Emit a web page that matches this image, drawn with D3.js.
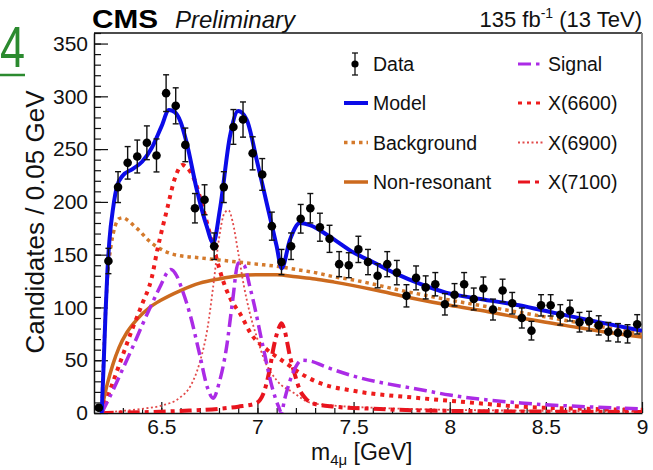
<!DOCTYPE html>
<html><head><meta charset="utf-8">
<script src="https://cdn.jsdelivr.net/npm/d3@7"></script>
<style>
body{margin:0;background:#fff}
svg{display:block;font-family:"Liberation Sans",Arial,Helvetica,sans-serif}
</style>
</head><body>
<svg id="c" width="653" height="470"></svg>
<script>
// ---------------- DATA ----------------
const binCenters = [6.175,6.225,6.275,6.325,6.375,6.425,6.475,6.525,6.575,6.625,
  6.675,6.725,6.775,6.825,6.875,6.925,6.975,7.025,7.075,7.125,
  7.175,7.225,7.275,7.325,7.375,7.425,7.475,7.525,7.575,7.625,
  7.675,7.725,7.775,7.825,7.875,7.925,7.975,8.025,8.075,8.125,
  8.175,8.225,8.275,8.325,8.375,8.425,8.475,8.525,8.575,8.625,
  8.675,8.725,8.775,8.825,8.875,8.925,8.975];
const dataCounts = [5,144,214,237,243,256,244,303,291,254,
  194,202,158,214,271,278,246,226,177,143,
  158,184,194,176,165,141,140,155,143,130,
  141,133,111,128,119,122,103,112,122,108,
  118,98,116,104,90,78,102,102,93,97,
  86,87,83,77,76,75,84];

const modelX = [6.19,6.2,6.21,6.22,6.23,6.25,6.27,6.3,6.35,6.4,6.45,6.5,6.54,6.57,6.6,6.632,6.684,6.736,6.77,6.805,6.857,6.9,6.944,6.996,7.048,7.1,7.126,7.169,7.221,7.273,7.377,7.5,7.6,7.72,7.85,7.98,8.16,8.36,8.54,8.75,9.0];
const modelY = [0,45,95,135,163,195,215,225,231,238,251,271,287,285,276,256,212,177,161,193,262,286,278,240,199,158,137,164,180,178,167,152,143,132,122,114,108,102,95,87,78];

const bkgX = [6.19,6.2,6.21,6.22,6.24,6.26,6.28,6.3,6.33,6.36,6.39,6.42,6.45,6.5,6.55,6.6,6.7,6.8,6.9,7.0,7.1,7.2,7.3,7.4,7.5,7.75,8.0,8.25,8.5,8.75,9.0];
const bkgY = [0,50,95,128,160,177,184,185,182,177,172,166,161,155,151,149,147,145,143,141,139,136,133,129,126,116,107,99,91,83,75];

const nonresX = [6.19,6.2,6.22,6.25,6.28,6.32,6.37,6.44,6.5,6.6,6.7,6.8,6.9,7.0,7.1,7.2,7.3,7.4,7.6,7.8,8.0,8.2,8.4,8.6,8.8,9.0];
const nonresY = [0,12,28,47,62,76,88,100,107,116,123,127,130,131,131,129,127,124,117,109,102,96,89,83,77,72];

const signalX = [6.19,6.25,6.3,6.35,6.4,6.45,6.5,6.53,6.55,6.58,6.61,6.65,6.7,6.74,6.77,6.8,6.84,6.87,6.9,6.93,6.96,6.98,7.03,7.08,7.11,7.125,7.14,7.17,7.2,7.23,7.28,7.35,7.5,7.85,8.0,8.37,8.7,9.0];
const signalY = [0,22,42,62,83,103,122,133,136,130,116,93,55,24,14,28,63,105,142,140,120,105,62,22,6,0,12,31,44,50,49,44,35,22,17,9.5,6,4];

const x6600X = [6.19,6.25,6.3,6.35,6.4,6.45,6.48,6.53,6.57,6.61,6.63,6.67,6.72,6.77,6.82,6.86,6.91,6.97,7.05,7.15,7.22,7.33,7.5,7.85,8.1,8.37,8.7,9.0];
const x6600Y = [0,30,55,80,103,128,155,193,222,235,233,222,192,158,126,108,94,74,60,47,38,28,21,14,10,6,4,3];

const x6900X = [6.19,6.3,6.4,6.5,6.6,6.65,6.7,6.74,6.77,6.8,6.83,6.85,6.87,6.9,6.93,6.96,7.0,7.03,7.1,7.19,7.27,7.4,7.6,8.0,8.5,9.0];
const x6900Y = [0,2,4,7,15,25,48,80,120,165,190,192,182,152,120,95,70,53,31,19,10,7,5,3,2,1];

const x7100X = [6.19,6.6,6.8,6.9,6.99,7.03,7.06,7.085,7.11,7.125,7.14,7.17,7.2,7.22,7.25,7.29,7.4,7.6,8.0,9.0];
const x7100Y = [0,2,4,6,9,18,38,63,80,85,79,53,33,22,14,9,6,4,2,1];

const xTickValues = [6.5,7,7.5,8,8.5,9];
const xTickLabels = ["6.5","7","7.5","8","8.5","9"];
const yTickValues = [0,50,100,150,200,250,300,350];
const yTickLabels = ["0","50","100","150","200","250","300","350"];

const legendLeft = ["Data","Model","Background","Non-resonant"];
const legendRight = ["Signal","X(6600)","X(6900)","X(7100)"];

// ---------------- STYLE ----------------
const styles = {
  model:{stroke:"#0b0be8", width:4, dash:null},
  background:{stroke:"#d47a2c", width:3.5, dash:"3.5,4"},
  nonres:{stroke:"#cc6a1e", width:3.5, dash:null},
  signal:{stroke:"#ab2be6", width:3.5, dash:"13,5,3.5,5"},
  x6600:{stroke:"#ee1c1c", width:4, dash:"4,5"},
  x6900:{stroke:"#e24a4a", width:1.8, dash:"2,2.5"},
  x7100:{stroke:"#e8141e", width:4, dash:"12,5,4,5"}
};

const svg = d3.select("#c");
const L=94, R=642, T=33, B=413;
const x = d3.scaleLinear().domain([6.15,9.0]).range([L,R]);
const y = d3.scaleLinear().domain([0,360]).range([B,T]);

svg.append("rect").attr("width",653).attr("height",470).attr("fill","#fff");

svg.append("clipPath").attr("id","clip").append("rect")
  .attr("x",L).attr("y",T).attr("width",R-L).attr("height",B-T);

// frame
svg.append("line").attr("x1",L).attr("x2",R).attr("y1",T).attr("y2",T).attr("stroke","#111").attr("stroke-width",1.5);
svg.append("line").attr("x1",R).attr("x2",R).attr("y1",T).attr("y2",B).attr("stroke","#888").attr("stroke-width",2);

// axes
const fontTick = "21px";
const xMinor = d3.ticks(6.2, 9.0, 28);
const yMinor = d3.range(0, 361, 10);

const gxMinor = svg.append("g").attr("transform",`translate(0,${B})`)
  .call(d3.axisBottom(x).tickValues(xMinor).tickSize(-5).tickSizeOuter(0).tickFormat(""));
gxMinor.select(".domain").remove();
const gx = svg.append("g").attr("transform",`translate(0,${B})`)
  .call(d3.axisBottom(x).tickValues(xTickValues).tickSize(-11).tickSizeOuter(0).tickPadding(6)
    .tickFormat((d,i)=>xTickLabels[i]));
gx.selectAll("text").attr("font-size",fontTick).attr("fill","#111").attr("font-family","Liberation Sans, Arial, sans-serif");

const gyMinor = svg.append("g").attr("transform",`translate(${L},0)`)
  .call(d3.axisLeft(y).tickValues(yMinor).tickSize(-7).tickSizeOuter(0).tickFormat(""));
gyMinor.select(".domain").remove();
const gy = svg.append("g").attr("transform",`translate(${L},0)`)
  .call(d3.axisLeft(y).tickValues(yTickValues).tickSize(-14).tickSizeOuter(0).tickPadding(6)
    .tickFormat((d,i)=>yTickLabels[i]));
gy.selectAll("text").attr("font-size",fontTick).attr("fill","#111").attr("font-family","Liberation Sans, Arial, sans-serif");
svg.selectAll(".domain").attr("stroke","#111").attr("stroke-width",1.5);
svg.selectAll(".tick line").attr("stroke","#111").attr("stroke-width",1.2);

// curves
const plot = svg.append("g").attr("clip-path","url(#clip)");
function curve(xs, ys, st){
  const pts = xs.map((d,i)=>[d, ys[i]]);
  const line = d3.line().x(d=>x(d[0])).y(d=>y(d[1])).curve(d3.curveMonotoneX);
  const p = plot.append("path").attr("d",line(pts)).attr("fill","none")
    .attr("stroke",st.stroke).attr("stroke-width",st.width)
    .attr("stroke-linejoin","round");
  if(st.dash) p.attr("stroke-dasharray",st.dash);
}
curve(nonresX, nonresY, styles.nonres);
curve(bkgX, bkgY, styles.background);
curve(x6900X, x6900Y, styles.x6900);
curve(x7100X, x7100Y, styles.x7100);
curve(x6600X, x6600Y, styles.x6600);
curve(signalX, signalY, styles.signal);
curve(modelX, modelY, styles.model);

// data
const dg = plot.append("g");
binCenters.forEach((c,i)=>{
  const v = dataCounts[i], e = Math.sqrt(v);
  const cx = x(c);
  dg.append("line").attr("x1",cx).attr("x2",cx).attr("y1",y(v+e)).attr("y2",y(Math.max(0,v-e))).attr("stroke","#111").attr("stroke-width",1.4);
  [v+e, Math.max(0,v-e)].forEach(t=>{
    dg.append("line").attr("x1",cx-3).attr("x2",cx+3).attr("y1",y(t)).attr("y2",y(t)).attr("stroke","#111").attr("stroke-width",1.4);
  });
  dg.append("circle").attr("cx",cx).attr("cy",y(v)).attr("r",4.3).attr("fill","#000");
});

// legend
const rows = [64,103,142.5,182];
const lg = svg.append("g").attr("font-size","19.5px").attr("fill","#111");
const leftKeys = [null,"model","background","nonres"];
const rightKeys = ["signal","x6600","x6900","x7100"];
legendLeft.forEach((lab,i)=>{
  const yy = rows[i];
  if(i===0){
    lg.append("line").attr("x1",355).attr("x2",355).attr("y1",yy-11).attr("y2",yy+11).attr("stroke","#111").attr("stroke-width",1.3);
    [yy-11,yy+11].forEach(t=>lg.append("line").attr("x1",352).attr("x2",358).attr("y1",t).attr("y2",t).attr("stroke","#111").attr("stroke-width",1.3));
    lg.append("circle").attr("cx",355).attr("cy",yy).attr("r",3.6).attr("fill","#000");
  } else {
    const st = styles[leftKeys[i]];
    const l = lg.append("line").attr("x1",344).attr("x2",368).attr("y1",yy).attr("y2",yy)
      .attr("stroke",st.stroke).attr("stroke-width",st.width);
    if(st.dash) l.attr("stroke-dasharray",st.dash);
  }
  lg.append("text").attr("x",373).attr("y",yy+7).text(lab);
});
legendRight.forEach((lab,i)=>{
  const yy = rows[i];
  const st = styles[rightKeys[i]];
  const l = lg.append("line").attr("x1",518).attr("x2",543).attr("y1",yy).attr("y2",yy)
    .attr("stroke",st.stroke).attr("stroke-width",Math.min(st.width,3.2));
  if(st.dash) l.attr("stroke-dasharray",st.dash);
  lg.append("text").attr("x",548).attr("y",yy+7).text(lab);
});

// titles
svg.append("text").attr("x",92).attr("y",28).attr("font-size","26px").attr("font-weight","bold")
  .attr("textLength",66).attr("lengthAdjust","spacingAndGlyphs").attr("fill","#000").text("CMS");
svg.append("text").attr("x",175).attr("y",28).attr("font-size","24px").attr("font-style","italic")
  .attr("fill","#111").text("Preliminary");
const lum = svg.append("text").attr("x",642).attr("y",27).attr("text-anchor","end").attr("font-size","22px").attr("fill","#111");
lum.append("tspan").text("135 fb");
lum.append("tspan").attr("font-size","14px").attr("dy",-9).text("-1");
lum.append("tspan").attr("dy",9).text(" (13 TeV)");

const xt = svg.append("text").attr("x",311).attr("y",460).attr("font-size","23px").attr("fill","#111");
xt.append("tspan").text("m");
xt.append("tspan").attr("font-size","15px").attr("dy",5).text("4μ");
xt.append("tspan").attr("dy",-5).text(" [GeV]");

svg.append("text").attr("transform","translate(44,222) rotate(-90)").attr("text-anchor","middle")
  .attr("font-size","26px").attr("fill","#111").text("Candidates / 0.05 GeV");

// slide artefact: green "4"
svg.append("text").attr("x",0).attr("y",67).attr("font-size","58px").attr("fill","#2b8a2f")
  .attr("textLength",25).attr("lengthAdjust","spacingAndGlyphs").text("4");
svg.append("line").attr("x1",0).attr("x2",25).attr("y1",75).attr("y2",75).attr("stroke","#2b8a2f").attr("stroke-width",2.5);
</script>
</body></html>
